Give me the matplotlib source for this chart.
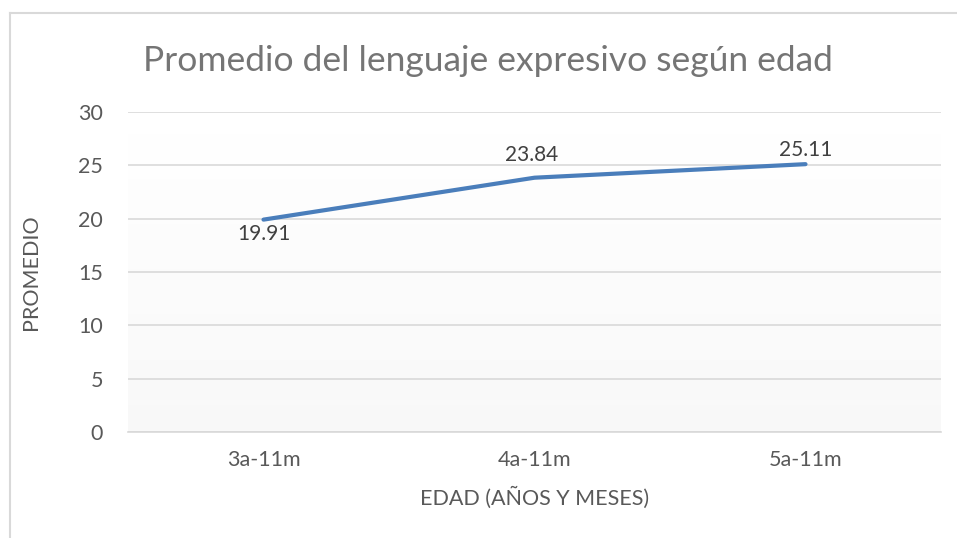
import numpy as np
import matplotlib.pyplot as plt
from matplotlib.lines import Line2D

plt.rcParams['font.family'] = ['Lato', 'DejaVu Sans']

edades = ["3a-11m", "4a-11m", "5a-11m"]
promedios = [19.91, 23.84, 25.11]
yticks = [0, 5, 10, 15, 20, 25, 30]

fig = plt.figure(figsize=(9.57, 5.38), dpi=100)
ax = fig.add_axes([128 / 957, 1 - 432 / 538, 813 / 957, 320 / 538])

# gradient background (white on top -> light gray at bottom)
grad = np.linspace(0, 1, 256).reshape(-1, 1)
ax.imshow(grad, extent=(-0.5, 2.5, 0, 30), aspect='auto', cmap='Greys',
          vmin=0, vmax=18, origin='upper', zorder=0)

x = np.arange(len(edades))
ax.plot(x, promedios, color='#4A7EBB', lw=3, solid_capstyle='round', zorder=3)

# label offsets in points (below, above, above)
offsets = [-10, 16, 10]
for xi, v, off in zip(x, promedios, offsets):
    ax.annotate(f"{v:.2f}", (xi, v), xytext=(-2 if xi == 1 else 0, off),
                textcoords='offset points', ha='center', va='center',
                fontsize=15, color='#404040', zorder=4)

ax.set_xlim(-0.5, 2.5)
ax.set_ylim(0, 30)
ax.set_yticks(yticks)
ax.set_xticks(x)
ax.set_xticklabels(edades)
ax.yaxis.grid(True, color='#D9D9D9', lw=1.2)
ax.set_axisbelow(True)
for s in ['top', 'right', 'left']:
    ax.spines[s].set_visible(False)
ax.spines['bottom'].set_color('#D9D9D9')
ax.spines['bottom'].set_linewidth(1.2)
ax.tick_params(length=0, labelsize=15.5, labelcolor='#595959')
ax.tick_params(axis='y', pad=18)
ax.tick_params(axis='x', pad=13)

ax.set_ylabel("PROMEDIO", fontsize=15.5, color='#595959')
ax.yaxis.set_label_coords(-0.107, 0.5)
ax.set_xlabel("EDAD (AÑOS Y MESES)", fontsize=15.5, color='#595959')
ax.xaxis.set_label_coords(0.5, -0.172)

fig.text(488 / 957, 1 - 61 / 538, "Promedio del lenguaje expresivo según edad",
         ha='center', va='center', fontsize=25.5, color='#757575')

# chart border
fig.add_artist(Line2D([10 / 957, 10 / 957], [0, 1 - 13 / 538], color='#D9D9D9', lw=1.5))
fig.add_artist(Line2D([10 / 957, 1], [1 - 13 / 538, 1 - 13 / 538], color='#D9D9D9', lw=1.5))

fig.savefig("out.png", dpi=100)
